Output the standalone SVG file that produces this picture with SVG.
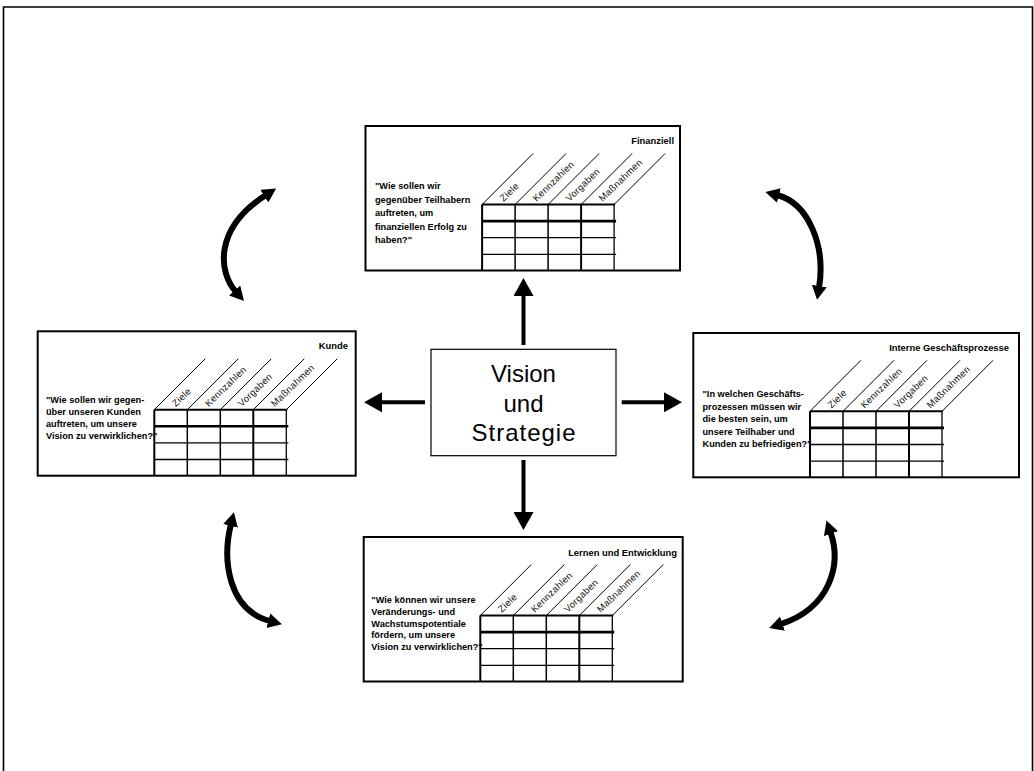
<svg xmlns="http://www.w3.org/2000/svg" xmlns:xlink="http://www.w3.org/1999/xlink" width="1034" height="771" viewBox="0 0 1034 771">
  <style>
    .frame { fill: none; stroke: #000; stroke-width: 1.6; }
    .box { fill: #fff; stroke: #000; stroke-width: 2; }
    .core { fill: #fff; stroke: #000; stroke-width: 1.2; }
    .ttl { font-family: "Liberation Sans", Arial, sans-serif; font-weight: bold; font-size: 9.4px; text-anchor: end; fill: #000; }
    .q { font-family: "Liberation Sans", Arial, sans-serif; font-weight: bold; font-size: 9.2px; fill: #000; }
    .hd { font-family: "Liberation Sans", Arial, sans-serif; font-size: 9.5px; letter-spacing: 0.3px; fill: #111; }
    .core-t { font-family: "Liberation Sans", Arial, sans-serif; font-size: 24px; text-anchor: middle; fill: #000; }
    .ln { stroke: #000; fill: none; }
    .shaft { stroke: #000; stroke-width: 4; fill: none; marker-end: url(#head); }
    .arc { stroke: #000; stroke-width: 6; fill: none; marker-start: url(#tip); marker-end: url(#tip); }
  </style>
  <defs>
    <marker id="head" markerUnits="userSpaceOnUse" markerWidth="20" markerHeight="20" refX="1" refY="10" orient="auto">
      <path d="M0,0 L18,10 L0,20 Z" fill="#000"/>
    </marker>
    <marker id="tip" markerUnits="userSpaceOnUse" markerWidth="16" markerHeight="16" refX="2" refY="7.5" orient="auto-start-reverse">
      <path d="M0,0 L14,7.5 L0,15 Z" fill="#000"/>
    </marker>
    <!-- 4x4 scorecard grid with slanted header lines; origin = top-left cell corner -->
    <g id="grid">
      <line class="ln" x1="0" y1="0" x2="133" y2="0" stroke-width="2"/>
      <line class="ln" x1="0" y1="16.6" x2="134" y2="16.6" stroke-width="2.6"/>
      <line class="ln" x1="0" y1="33.2" x2="134" y2="33.2" stroke-width="1.3"/>
      <line class="ln" x1="0" y1="49.8" x2="134" y2="49.8" stroke-width="1.3"/>
      <line class="ln" x1="0" y1="0" x2="0" y2="66" stroke-width="2"/>
      <line class="ln" x1="33" y1="0" x2="33" y2="66" stroke-width="1.5"/>
      <line class="ln" x1="66" y1="0" x2="66" y2="66" stroke-width="1.5"/>
      <line class="ln" x1="99" y1="0" x2="99" y2="66" stroke-width="2"/>
      <line class="ln" x1="132" y1="0" x2="132" y2="66" stroke-width="1.3"/>
      <line class="ln" x1="0" y1="0" x2="51" y2="-51" stroke-width="1"/>
      <line class="ln" x1="33" y1="0" x2="84" y2="-51" stroke-width="1"/>
      <line class="ln" x1="66" y1="0" x2="117" y2="-51" stroke-width="1"/>
      <line class="ln" x1="99" y1="0" x2="150" y2="-51" stroke-width="1"/>
      <line class="ln" x1="132" y1="0" x2="183" y2="-51" stroke-width="1"/>
    </g>
  </defs>

  <rect width="1034" height="771" fill="#fff"/>
  <path class="frame" d="M3.5,771 V7 H1032.5 V771"/>

  <!-- Finanziell -->
  <g id="finanziell">
    <rect class="box" x="365.5" y="126" width="314.5" height="144.5"/>
    <text class="ttl" x="674" y="144">Finanziell</text>
    <text class="q" x="375" y="189">
      <tspan x="375" dy="0">"Wie sollen wir</tspan>
      <tspan x="375" dy="13.5">gegenüber Teilhabern</tspan>
      <tspan x="375" dy="13.5">auftreten, um</tspan>
      <tspan x="375" dy="13.5">finanziellen Erfolg zu</tspan>
      <tspan x="375" dy="13.5">haben?"</tspan>
    </text>
    <g transform="translate(482.1,204.5)">
      <use xlink:href="#grid"/>
      <text class="hd" transform="translate(21.5,-2.5) rotate(-44)">Ziele</text>
      <text class="hd" transform="translate(54.5,-2.5) rotate(-44)">Kennzahlen</text>
      <text class="hd" transform="translate(87.5,-2.5) rotate(-44)">Vorgaben</text>
      <text class="hd" transform="translate(120.5,-2.5) rotate(-44)">Maßnahmen</text>
    </g>
  </g>

  <!-- Kunde -->
  <g id="kunde">
    <rect class="box" x="37.7" y="331.3" width="318" height="144.4"/>
    <text class="ttl" x="348" y="349">Kunde</text>
    <text class="q" x="46" y="403">
      <tspan x="46" dy="0">"Wie sollen wir gegen-</tspan>
      <tspan x="46" dy="12">über unseren Kunden</tspan>
      <tspan x="46" dy="12">auftreten, um unsere</tspan>
      <tspan x="46" dy="12">Vision zu verwirklichen?"</tspan>
    </text>
    <g transform="translate(154.3,409.7)">
      <use xlink:href="#grid"/>
      <text class="hd" transform="translate(21.5,-2.5) rotate(-44)">Ziele</text>
      <text class="hd" transform="translate(54.5,-2.5) rotate(-44)">Kennzahlen</text>
      <text class="hd" transform="translate(87.5,-2.5) rotate(-44)">Vorgaben</text>
      <text class="hd" transform="translate(120.5,-2.5) rotate(-44)">Maßnahmen</text>
    </g>
  </g>

  <!-- Interne Geschäftsprozesse -->
  <g id="prozesse">
    <rect class="box" x="693.3" y="333" width="325.7" height="144.3"/>
    <text class="ttl" x="1009" y="350.5">Interne Geschäftsprozesse</text>
    <text class="q" x="702.5" y="397">
      <tspan x="702.5" dy="0">"In welchen Geschäfts-</tspan>
      <tspan x="702.5" dy="12.5">prozessen müssen wir</tspan>
      <tspan x="702.5" dy="12.5">die besten sein, um</tspan>
      <tspan x="702.5" dy="12.5">unsere Teilhaber und</tspan>
      <tspan x="702.5" dy="12.5">Kunden zu befriedigen?"</tspan>
    </text>
    <g transform="translate(810,411.3)">
      <use xlink:href="#grid"/>
      <text class="hd" transform="translate(21.5,-2.5) rotate(-44)">Ziele</text>
      <text class="hd" transform="translate(54.5,-2.5) rotate(-44)">Kennzahlen</text>
      <text class="hd" transform="translate(87.5,-2.5) rotate(-44)">Vorgaben</text>
      <text class="hd" transform="translate(120.5,-2.5) rotate(-44)">Maßnahmen</text>
    </g>
  </g>

  <!-- Lernen und Entwicklung -->
  <g id="lernen">
    <rect class="box" x="363.7" y="537" width="319" height="144.5"/>
    <text class="ttl" x="677" y="555.5">Lernen und Entwicklung</text>
    <text class="q" x="371.3" y="603">
      <tspan x="371.3" dy="0">"Wie können wir unsere</tspan>
      <tspan x="371.3" dy="11.8">Veränderungs- und</tspan>
      <tspan x="371.3" dy="11.8">Wachstumspotentiale</tspan>
      <tspan x="371.3" dy="11.8">fördern, um unsere</tspan>
      <tspan x="371.3" dy="11.8">Vision zu verwirklichen?"</tspan>
    </text>
    <g transform="translate(480.3,615.5)">
      <use xlink:href="#grid"/>
      <text class="hd" transform="translate(21.5,-2.5) rotate(-44)">Ziele</text>
      <text class="hd" transform="translate(54.5,-2.5) rotate(-44)">Kennzahlen</text>
      <text class="hd" transform="translate(87.5,-2.5) rotate(-44)">Vorgaben</text>
      <text class="hd" transform="translate(120.5,-2.5) rotate(-44)">Maßnahmen</text>
    </g>
  </g>

  <!-- Vision und Strategie -->
  <g id="vision">
    <rect class="core" x="431" y="349.3" width="185" height="106.4"/>
    <text class="core-t" x="523.5" y="382">Vision</text>
    <text class="core-t" x="523.5" y="411.5">und</text>
    <text class="core-t" x="523.5" y="441" textLength="104" lengthAdjust="spacing">Strategie</text>
  </g>

  <g id="connectors">
    <line class="shaft" x1="523.5" y1="345" x2="523.5" y2="295"/>
    <line class="shaft" x1="523.5" y1="460" x2="523.5" y2="513"/>
    <line class="shaft" x1="425" y1="402.3" x2="381" y2="402.3"/>
    <line class="shaft" x1="621.7" y1="402.3" x2="665" y2="402.3"/>
    <path class="arc" d="M236,292 C218,272 214,228 266,195"/>
    <path class="arc" d="M777,195 C808,203 826,245 819,288"/>
    <path class="arc" d="M231,524 C222,560 228,610 270.3,621.2"/>
    <path class="arc" d="M830.4,531.8 C842,565 830,608 780.6,624.2"/>
  </g>
</svg>
